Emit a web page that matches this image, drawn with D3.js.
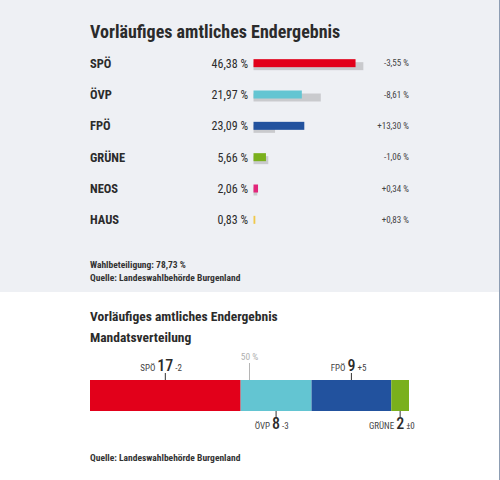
<!DOCTYPE html>
<html><head><meta charset="utf-8">
<script src="https://cdn.jsdelivr.net/npm/d3@7"></script>
<style>
html,body{margin:0;padding:0;background:#fff;}
svg{display:block;}
text{font-family:"Liberation Sans Narrow","Roboto Condensed","DejaVu Sans Condensed",sans-serif;}
</style></head>
<body>
<svg id="c" width="500" height="480"></svg>
<script>
// ---- data ----
const parties = ["SPÖ", "ÖVP", "FPÖ", "GRÜNE", "NEOS", "HAUS"];
const votes = [46.38, 21.97, 23.09, 5.66, 2.06, 0.83];
const changes = [-3.55, -8.61, 13.30, -1.06, 0.34, 0.83];
const partyColors = ["#e2001a", "#63c5d2", "#22529e", "#7ab01c", "#e2267a", "#f0c84a"];
const turnout = 78.73;

const seatParties = ["SPÖ", "ÖVP", "FPÖ", "GRÜNE"];
const seats = [17, 8, 9, 2];
const seatChanges = ["-2", "-3", "+5", "±0"];
const seatLabelSide = ["top", "bottom", "top", "bottom"];
const seatColors = ["#e2001a", "#63c5d2", "#22529e", "#7ab01c"];

const title1 = "Vorläufiges amtliches Endergebnis";
const title2 = "Mandatsverteilung";
const source = "Quelle: Landeswahlbehörde Burgenland";

// ---- setup ----
const de = d3.formatLocale({decimal: ",", thousands: ".", grouping: [3], currency: ["", " €"], minus: "-"});
const fmt = de.format(".2f");
const fmtSign = de.format("+.2f");

const svg = d3.select("#c");
svg.append("rect").attr("x", 0).attr("y", 0).attr("width", 500).attr("height", 292).attr("fill", "#eef0f4");
svg.append("line").attr("x1", 499.5).attr("x2", 499.5).attr("y1", 0).attr("y2", 480).attr("stroke", "#8d9db3").attr("stroke-width", 1);

// ---- top chart ----
svg.append("text").attr("x", 90).attr("y", 38).attr("font-size", 18).attr("font-weight", 700)
  .attr("fill", "#2b2b2b").text(title1);

const y = d3.scaleBand().domain(parties).range([47.5, 235.5]).padding(0);
const x = d3.scaleLinear().domain([0, 100]).range([253.5, 473.5]);
const barH = 8;

const rows = svg.append("g").selectAll("g").data(parties).join("g")
  .attr("transform", d => `translate(0,${y(d) + y.bandwidth() / 2})`);

rows.append("rect").attr("x", x(0)).attr("y", -barH / 2 + 3)
  .attr("width", (d, i) => x(votes[i] - changes[i]) - x(0)).attr("height", barH).attr("fill", "#c9cacd");
rows.append("rect").attr("x", x(0)).attr("y", -barH / 2)
  .attr("width", (d, i) => x(votes[i]) - x(0)).attr("height", barH).attr("fill", (d, i) => partyColors[i]);

rows.append("text").attr("x", 90).attr("y", 4.5).attr("font-size", 12.5).attr("font-weight", 700)
  .attr("fill", "#2b2b2b").text(d => d);
rows.append("text").attr("x", 248).attr("y", 4.5).attr("text-anchor", "end").attr("font-size", 12)
  .attr("fill", "#2b2b2b").text((d, i) => fmt(votes[i]) + " %");
rows.append("text").attr("x", 409).attr("y", 3).attr("text-anchor", "end").attr("font-size", 9)
  .attr("fill", "#444").text((d, i) => fmtSign(changes[i]) + " %");

svg.append("text").attr("x", 90).attr("y", 268).attr("font-size", 9.5).attr("font-weight", 700)
  .attr("fill", "#333").text("Wahlbeteiligung: " + fmt(turnout) + " %");
svg.append("text").attr("x", 90).attr("y", 281).attr("font-size", 9.5).attr("font-weight", 700)
  .attr("fill", "#333").text(source);

// ---- bottom chart ----
svg.append("text").attr("x", 90).attr("y", 321).attr("font-size", 13.5).attr("font-weight", 700)
  .attr("fill", "#2b2b2b").text(title1);
svg.append("text").attr("x", 90).attr("y", 342).attr("font-size", 13.5).attr("font-weight", 700)
  .attr("fill", "#2b2b2b").text(title2);

const total = d3.sum(seats);
const sx = d3.scaleLinear().domain([0, total]).range([90, 409]);
const cum = d3.cumsum(seats);
const starts = seats.map((s, i) => cum[i] - s);
const barTop = 380, barBottom = 411;

svg.append("g").selectAll("rect").data(seatParties).join("rect")
  .attr("x", (d, i) => sx(starts[i])).attr("y", barTop)
  .attr("width", (d, i) => sx(cum[i]) - sx(starts[i])).attr("height", barBottom - barTop)
  .attr("fill", (d, i) => seatColors[i]);

// 50% marker
svg.append("line").attr("x1", sx(total / 2)).attr("x2", sx(total / 2)).attr("y1", 363).attr("y2", barTop)
  .attr("stroke", "#b5b5b5").attr("stroke-width", 1);
svg.append("text").attr("x", sx(total / 2)).attr("y", 360).attr("text-anchor", "middle").attr("font-size", 9.5)
  .attr("fill", "#b0b0b0").text("50 %");

const lab = svg.append("g").selectAll("g").data(seatParties).join("g")
  .attr("transform", (d, i) => `translate(${sx(starts[i] + seats[i] / 2)},0)`);
lab.append("line").attr("x1", 0).attr("x2", 0)
  .attr("y1", (d, i) => seatLabelSide[i] === "top" ? barTop - 7 : barBottom)
  .attr("y2", (d, i) => seatLabelSide[i] === "top" ? barTop : barBottom + 6)
  .attr("stroke", "#333").attr("stroke-width", 1);
const ly = i => seatLabelSide[i] === "top" ? 371 : 429;
lab.append("text").attr("x", 0).attr("y", (d, i) => ly(i)).attr("text-anchor", "middle")
  .attr("font-size", 16).attr("font-weight", 500).attr("fill", "#2b2b2b").text((d, i) => seats[i]);
lab.each(function(d, i) {
  const g = d3.select(this);
  const w = g.select("text").node().getComputedTextLength();
  g.append("text").attr("x", -w / 2 - 2).attr("y", ly(i)).attr("text-anchor", "end")
    .attr("font-size", 9).attr("fill", "#444").text(d);
  g.append("text").attr("x", w / 2 + 2).attr("y", ly(i)).attr("text-anchor", "start")
    .attr("font-size", 9).attr("fill", "#444").text(seatChanges[i]);
});

svg.append("text").attr("x", 90).attr("y", 461).attr("font-size", 9.5).attr("font-weight", 700)
  .attr("fill", "#333").text(source);
</script>
</body></html>
